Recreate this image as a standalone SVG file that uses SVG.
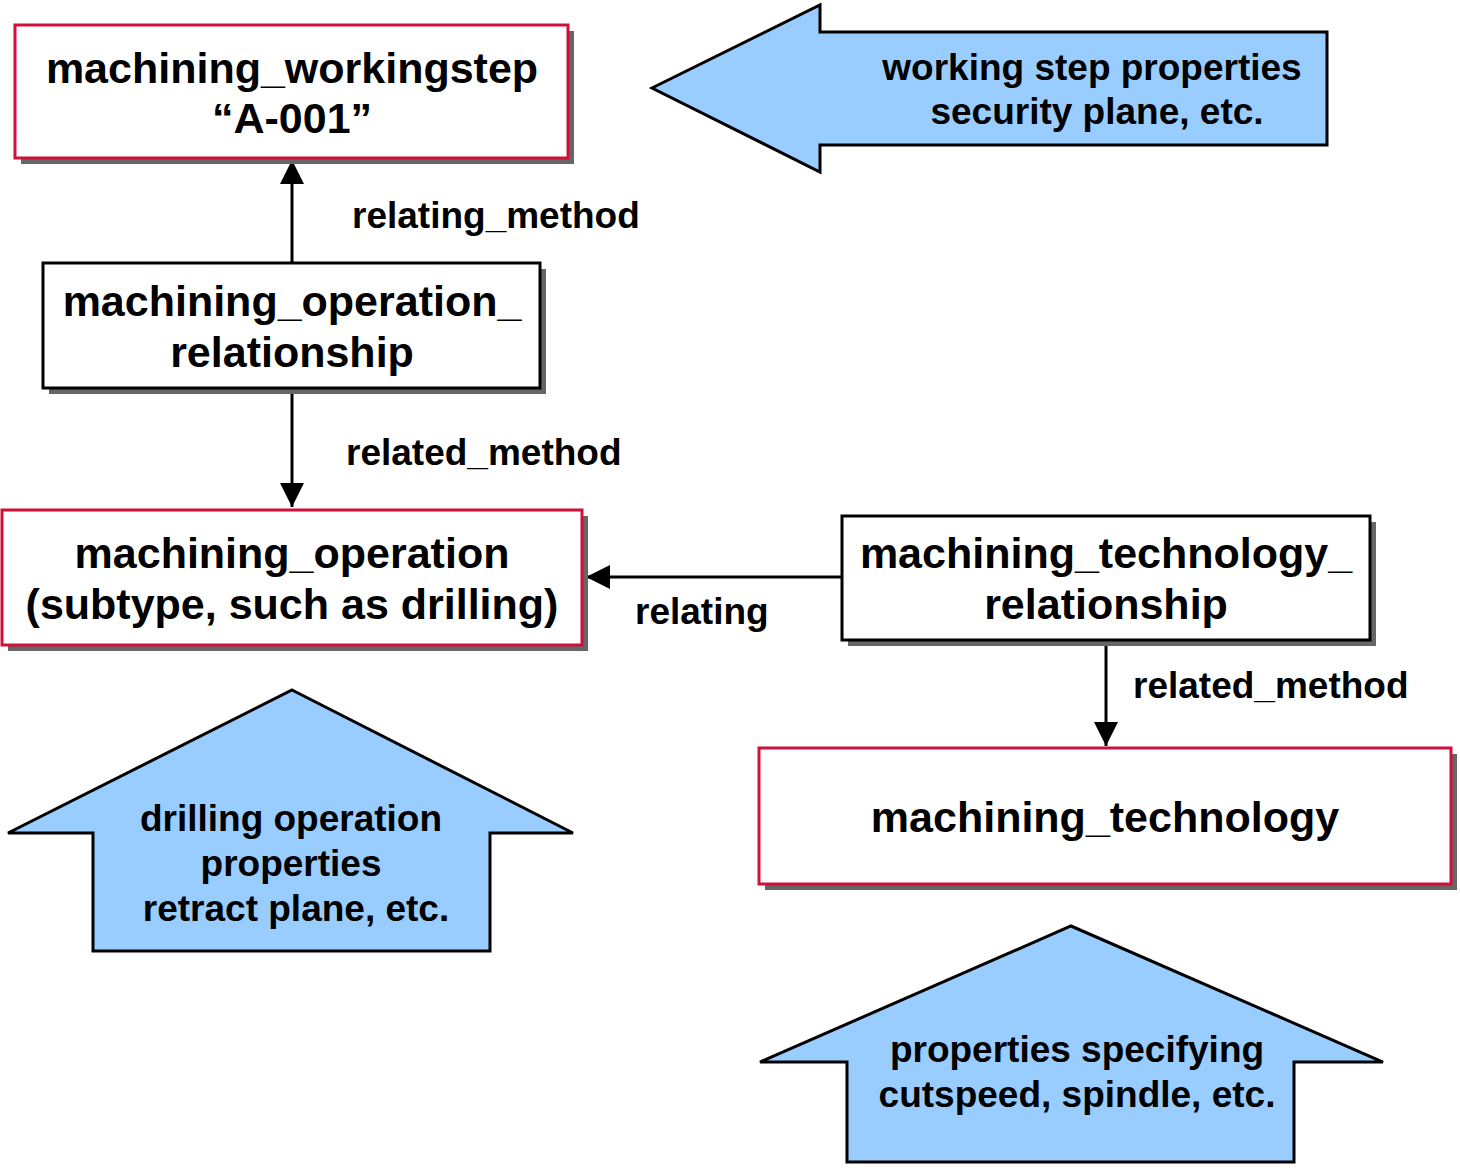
<svg xmlns="http://www.w3.org/2000/svg" width="1460" height="1168" viewBox="0 0 1460 1168">
<style>
.shadow{fill:#666666;stroke:none}
.box{fill:#ffffff;stroke-width:3}
.red{stroke:#d0103a}
.blk{stroke:#000000}
.t{font-family:"Liberation Sans",Arial,sans-serif;font-weight:bold;fill:#000;text-anchor:middle}
.nt{font-size:43px}
.lbl{font-family:"Liberation Sans",Arial,sans-serif;font-weight:bold;fill:#000;font-size:37px}
.big{fill:#99ccff;stroke:#000;stroke-width:3;stroke-linejoin:miter}
.at{font-size:37px}
.conn{stroke:#000;stroke-width:3;fill:none}
</style>
<defs>
<marker id="arr" viewBox="0 0 24 24" refX="24" refY="12" markerWidth="24" markerHeight="24" markerUnits="userSpaceOnUse" orient="auto">
<path d="M0,0 L24,12 L0,24 Z" fill="#000"/>
</marker>
</defs>

<g id="block-workingstep-props">
<path class="big" d="M652,88 L820,5 L820,32 L1327,32 L1327,145 L820,145 L820,172 Z"/>
<text class="t at" x="1092" y="80">working step properties</text>
<text class="t at" x="1097" y="124">security plane, etc.</text>
</g>

<g id="block-drilling-props">
<path class="big" d="M292,690 L573,833 L490,833 L490,951 L93,951 L93,833 L8,833 Z"/>
<text class="t at" x="291" y="831">drilling operation</text>
<text class="t at" x="291" y="876">properties</text>
<text class="t at" x="296" y="921">retract plane, etc.</text>
</g>

<g id="block-technology-props">
<path class="big" d="M1071,926 L1383,1062 L1294,1062 L1294,1162 L847,1162 L847,1062 L760,1062 Z"/>
<text class="t at" x="1077" y="1062">properties specifying</text>
<text class="t at" x="1077" y="1107">cutspeed, spindle, etc.</text>
</g>

<g id="connectors">
<line class="conn" x1="292" y1="263" x2="292" y2="160" marker-end="url(#arr)"/>
<line class="conn" x1="292" y1="388" x2="292" y2="507" marker-end="url(#arr)"/>
<line class="conn" x1="842" y1="577" x2="586" y2="577" marker-end="url(#arr)"/>
<line class="conn" x1="1106" y1="640" x2="1106" y2="746" marker-end="url(#arr)"/>
<text class="lbl" x="352" y="228">relating_method</text>
<text class="lbl" x="346" y="465">related_method</text>
<text class="lbl" x="635" y="624">relating</text>
<text class="lbl" x="1133" y="698">related_method</text>
</g>

<g id="node-workingstep">
<rect class="shadow" x="21" y="31" width="553" height="133"/>
<rect class="box red" x="15" y="25" width="553" height="133"/>
<text class="t nt" x="292" y="83">machining_workingstep</text>
<text class="t nt" x="292" y="133">“A-001”</text>
</g>

<g id="node-operation-relationship">
<rect class="shadow" x="49" y="269" width="497" height="125"/>
<rect class="box blk" x="43" y="263" width="497" height="125"/>
<text class="t nt" x="292" y="316">machining_operation_</text>
<text class="t nt" x="292" y="367">relationship</text>
</g>

<g id="node-operation">
<rect class="shadow" x="8" y="516" width="580" height="135"/>
<rect class="box red" x="2" y="510" width="580" height="135"/>
<text class="t nt" x="292" y="568">machining_operation</text>
<text class="t nt" x="292" y="619">(subtype, such as drilling)</text>
</g>

<g id="node-technology-relationship">
<rect class="shadow" x="848" y="522" width="528" height="124"/>
<rect class="box blk" x="842" y="516" width="528" height="124"/>
<text class="t nt" x="1106" y="568">machining_technology_</text>
<text class="t nt" x="1106" y="619">relationship</text>
</g>

<g id="node-technology">
<rect class="shadow" x="765" y="754" width="692" height="136"/>
<rect class="box red" x="759" y="748" width="692" height="136"/>
<text class="t nt" x="1105" y="832">machining_technology</text>
</g>
</svg>
